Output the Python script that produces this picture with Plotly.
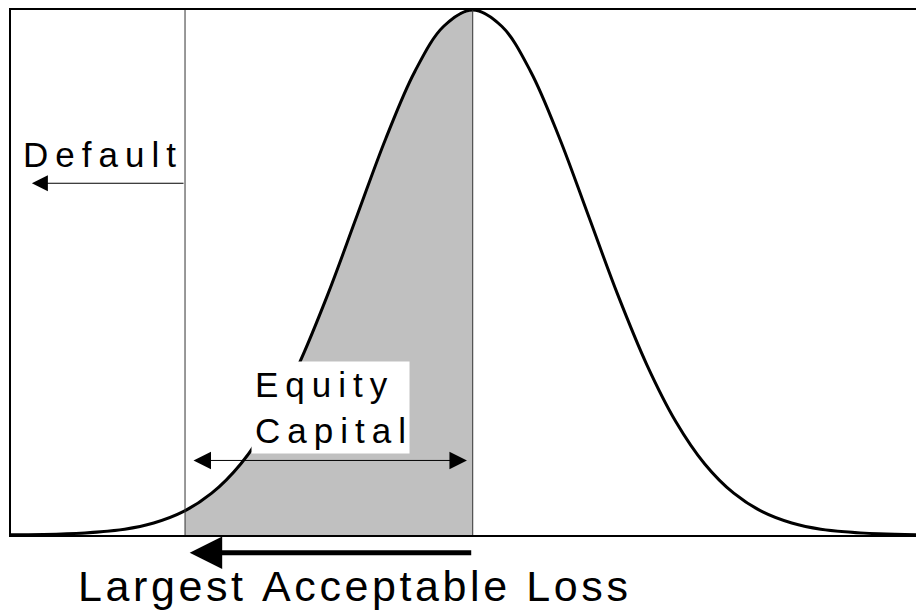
import plotly.graph_objects as go

# bell curve (x in std devs, height relative to peak)
curve_x = [-3.98, -3.5, -3.0, -2.75, -2.5, -2.25, -2.0, -1.75, -1.5, -1.25, -1.0, -0.75,
           -0.5, -0.25, 0.0, 0.25, 0.5, 0.75, 1.0, 1.25, 1.5, 1.75, 2.0, 2.25, 2.5,
           2.75, 3.0, 3.5, 3.89]
curve_y = [0.0003, 0.0022, 0.0111, 0.0228, 0.0439, 0.0796, 0.1353, 0.2163, 0.3247, 0.4578,
           0.6065, 0.7548, 0.8825, 0.969, 1.0, 0.969, 0.8825, 0.7548, 0.6065, 0.4578,
           0.3247, 0.2163, 0.1353, 0.0796, 0.0439, 0.0228, 0.0111, 0.0022, 0.0005]

# shaded part: default point up to the mean
shade_x = [-2.48, -2.25, -2.0, -1.75, -1.5, -1.25, -1.0, -0.75, -0.5, -0.25, 0.0]
shade_y = [0.0461, 0.0796, 0.1353, 0.2163, 0.3247, 0.4578, 0.6065, 0.7548, 0.8825, 0.969, 1.0]

default_x = -2.48
mean_x = 0.0

FONT = "Liberation Sans, Arial, sans-serif"


def spaced(s, gap="\u2009"):
    # wide letter spacing like the original
    return gap.join(s)


fig = go.Figure()
fig.add_trace(go.Scatter(x=shade_x, y=shade_y, mode="lines", line=dict(width=0, shape="spline"),
                         fill="tozeroy", fillcolor="#c0c0c0", hoverinfo="skip"))
fig.add_trace(go.Scatter(x=curve_x, y=curve_y, mode="lines",
                         line=dict(color="black", width=3, shape="spline"), hoverinfo="skip"))

# vertical markers
fig.add_shape(type="line", x0=default_x, x1=default_x, y0=0, y1=1, line=dict(color="#333", width=1))
fig.add_shape(type="line", x0=mean_x, x1=mean_x, y0=0, y1=1, line=dict(color="#333", width=1))

anns = [
    # Default label + arrow
    dict(x=-3.22, y=0.724, text=spaced("Default"), showarrow=False, font=dict(size=35)),
    dict(x=-3.80, y=0.67, ax=default_x, ay=0.67, axref="x", ayref="y", text="",
         showarrow=True, arrowhead=2, arrowsize=3.2, arrowwidth=1, arrowcolor="black"),
    # Equity capital double arrow
    dict(x=-0.05, y=0.142, ax=-2.42, ay=0.142, axref="x", ayref="y", text="",
         showarrow=True, arrowhead=2, startarrowhead=2, arrowside="end+start",
         arrowsize=3.5, startarrowsize=3.5, arrowwidth=1, arrowcolor="black"),
    dict(x=-1.23, y=0.242, text=spaced("Equity") + "<br>" + spaced("Capital"), showarrow=False,
         font=dict(size=35), bgcolor="white", align="left", borderpad=3),
    # largest acceptable loss (below the plot, in paper units)
    dict(x=-2.44, y=-0.034, ax=mean_x, ay=0, axref="x", ayref="pixel", yref="paper", text="",
         showarrow=True, arrowhead=2, arrowsize=1.3, arrowwidth=5, arrowcolor="black"),
    dict(x=-1.03, y=-0.097, yref="paper", yanchor="middle", xanchor="center",
         text=spaced("Largest Acceptable Loss", "\u200a"), showarrow=False, font=dict(size=43)),
]
for a in anns:
    a.setdefault("xref", "x")
    a.setdefault("yref", "y")
    fig.add_annotation(**a)

fig.update_layout(
    width=916, height=604, autosize=False,
    margin=dict(l=3, r=0, t=0, b=77),
    plot_bgcolor="white", paper_bgcolor="white",
    showlegend=False,
    font=dict(family=FONT, color="black"),
    xaxis=dict(range=[-3.98, 3.89], showgrid=False, zeroline=False, showticklabels=False,
               ticks="", showline=True, mirror=True, linecolor="black", linewidth=1.5),
    yaxis=dict(range=[0, 1], showgrid=False, zeroline=False, showticklabels=False,
               ticks="", showline=True, linecolor="black", linewidth=1.5),
)

fig.write_html("out.html")
